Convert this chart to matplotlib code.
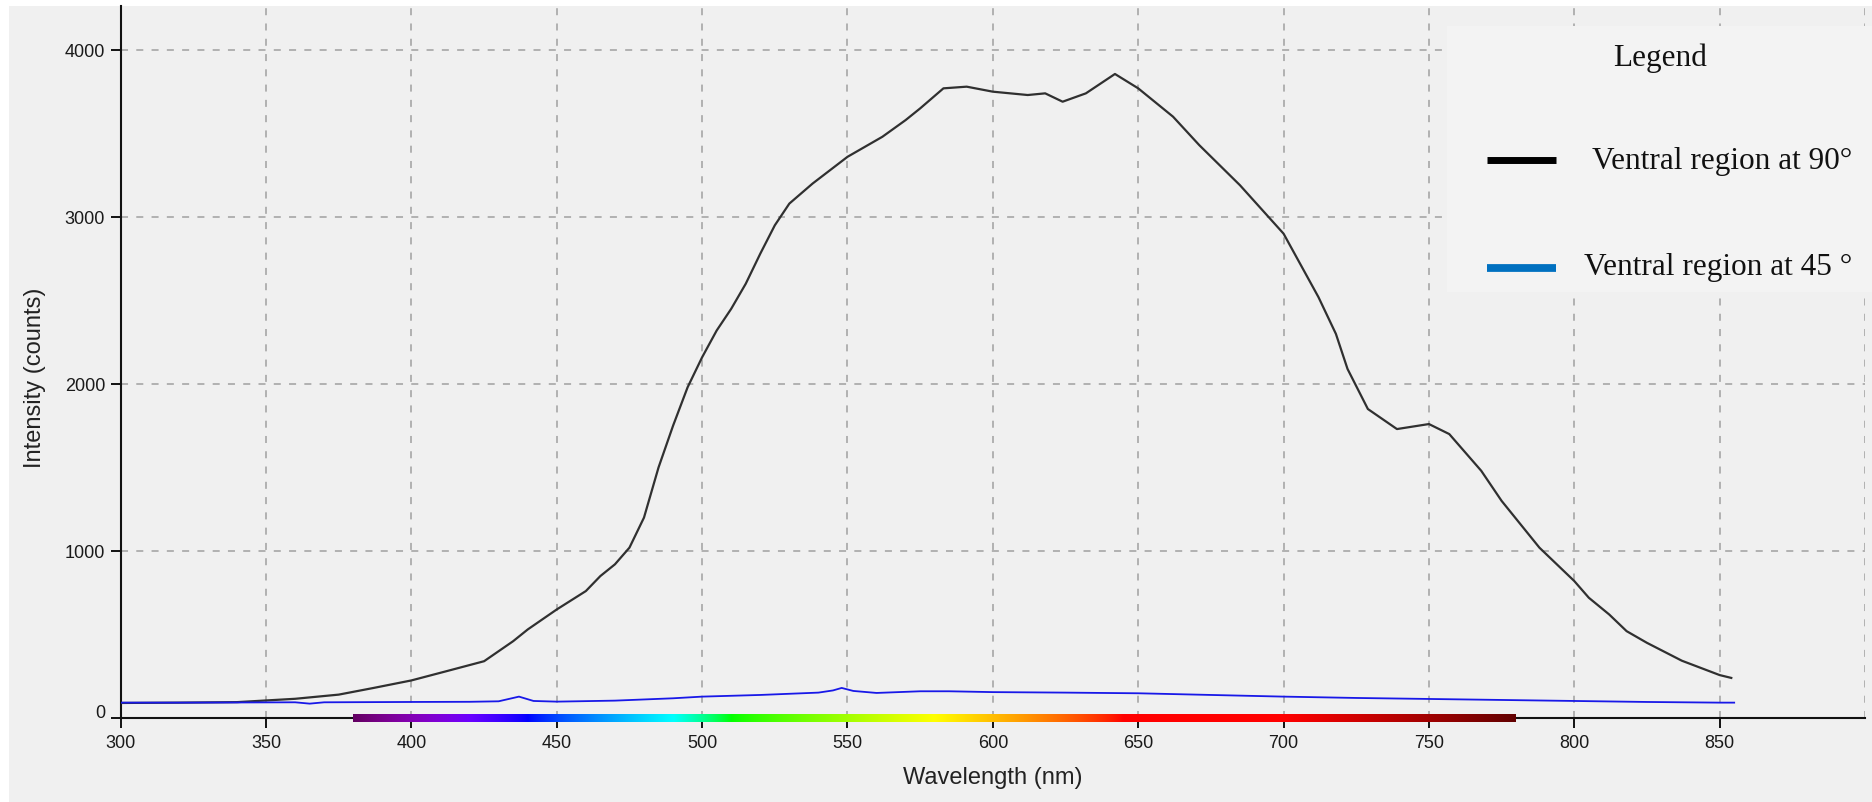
import numpy as np
import matplotlib
matplotlib.use('Agg')
import matplotlib.pyplot as plt
from matplotlib.patches import Rectangle
from matplotlib.lines import Line2D
import matplotlib.transforms as mtransforms

# ---------------- data ----------------
wl_90 = [300, 320, 340, 350, 360, 375, 387, 400, 412, 425, 435, 440, 450, 460, 465,
         470, 475, 480, 485, 490, 495, 500, 505, 510, 515, 520, 525, 530, 538, 550,
         562, 570, 575, 583, 591, 600, 612, 618, 624, 632, 642, 650, 662, 671, 685,
         700, 712, 718, 722, 729, 739, 750, 757, 768, 775, 788, 800, 805, 812, 818,
         825, 837, 850, 854]
int_90 = [90, 92, 95, 105, 115, 140, 180, 225, 280, 340, 460, 530, 650, 760, 850,
          920, 1020, 1200, 1500, 1750, 1980, 2160, 2320, 2450, 2600, 2780, 2950, 3080, 3200, 3360,
          3480, 3580, 3650, 3770, 3780, 3750, 3730, 3740, 3690, 3740, 3856, 3770, 3600, 3430, 3190,
          2900, 2520, 2300, 2090, 1850, 1730, 1760, 1700, 1480, 1300, 1020, 820, 720, 620, 520,
          450, 343, 257, 240]

wl_45 = [300, 320, 340, 360, 365, 370, 400, 420, 430, 437, 442, 450, 470, 490, 500,
         520, 540, 545, 548, 552, 560, 575, 585, 600, 625, 650, 675, 700, 725, 750,
         775, 800, 825, 850, 855]
int_45 = [92, 92, 93, 94, 86, 94, 96, 97, 100, 128, 102, 98, 104, 118, 128,
          138, 152, 165, 180, 162, 150, 160, 160, 155, 152, 148, 138, 128, 120, 114,
          108, 102, 96, 92, 92]

x_ticks = [300, 350, 400, 450, 500, 550, 600, 650, 700, 750, 800, 850]
y_ticks = [0, 1000, 2000, 3000, 4000]
legend_title = "Legend"
legend_labels = ["Ventral region at 90°", "Ventral region at 45 °"]
legend_colors = ["#000000", "#0070c0"]
visible_range = [380, 780]

# ---------------- figure ----------------
W, H = 1872, 803
fig = plt.figure(figsize=(W / 100, H / 100), dpi=100)
fig.patch.set_facecolor('white')
fig.add_artist(Rectangle((9 / W, 0), 1 - 9 / W, (H - 7) / H, transform=fig.transFigure,
                         facecolor='#f0f0f0', edgecolor='none', zorder=-10))

x0, x1, ytop, ybot = 120.7, 1865, 7, 719
ax = fig.add_axes([x0 / W, (H - ybot) / H, (x1 - x0) / W, (ybot - ytop) / H])
ax.patch.set_visible(False)
ax.set_xlim(300, 900)
ax.set_ylim(0, 4263)

for s in ['top', 'right']:
    ax.spines[s].set_visible(False)
for s in ['left', 'bottom']:
    ax.spines[s].set_linewidth(1.5)
    ax.spines[s].set_color('#111111')

ax.set_xticks(x_ticks)
ax.set_yticks(y_ticks)
ax.set_xticklabels([str(t) for t in x_ticks])
ax.set_yticklabels([str(t) for t in y_ticks])
ax.tick_params(axis='both', direction='out', length=7.2, width=1.4, color='#111111',
               labelsize=13, labelcolor='#1a1a1a', pad=4)
for lab in ax.get_xticklabels() + ax.get_yticklabels():
    lab.set_fontfamily('Liberation Sans')

# "0" label sits a little above its tick in the reference
off = mtransforms.ScaledTranslation(0, 7 / 100, fig.dpi_scale_trans)
ylabs = ax.get_yticklabels()
ylabs[0].set_transform(ylabs[0].get_transform() + off)

grid_kw = dict(color='#a0a0a0', linewidth=1.1, linestyle=(0, (4.6, 5.4)))
ax.grid(True, **grid_kw)
ax.axvline(900, **grid_kw, zorder=1)
ax.set_axisbelow(True)

ax.plot(wl_90, int_90, color='#303030', linewidth=1.6, zorder=3)
ax.plot(wl_45, int_45, color='#1818e8', linewidth=1.3, zorder=3)

# visible-spectrum colour bar under the axis
def wl_rgb(w):
    if w < 440:
        r, g, b = -(w - 440) / 60, 0.0, 1.0
    elif w < 490:
        r, g, b = 0.0, (w - 440) / 50, 1.0
    elif w < 510:
        r, g, b = 0.0, 1.0, -(w - 510) / 20
    elif w < 580:
        r, g, b = (w - 510) / 70, 1.0, 0.0
    elif w < 645:
        r, g, b = 1.0, -(w - 645) / 65, 0.0
    else:
        r, g, b = 1.0, 0.0, 0.0
    if w < 420:
        f = 0.3 + 0.7 * (w - 380) / 40
    elif w > 700:
        f = 0.3 + 0.7 * (780 - w) / 80
    else:
        f = 1.0
    return [(c * f) ** 0.8 if c > 0 else 0.0 for c in (r, g, b)]

wls = np.linspace(visible_range[0], visible_range[1], 800)
img = np.array([[wl_rgb(w) for w in wls]])
ax.imshow(img, extent=[visible_range[0], visible_range[1], -24, 18], aspect='auto',
          clip_on=False, zorder=4, interpolation='bilinear')
ax.set_xlim(300, 900)
ax.set_ylim(0, 4263)

ax.set_xlabel('Wavelength (nm)', fontsize=17, family='Liberation Sans', color='#222222', va='center')
ax.set_ylabel('Intensity (counts)', fontsize=17, family='Liberation Sans', color='#222222', va='center')
ax.xaxis.set_label_coords(0.5, (ybot - 778) / (ybot - ytop))
ax.yaxis.set_label_coords((35 - x0) / (x1 - x0), (ybot - 378) / (ybot - ytop))

# ---------------- legend (drawn in figure pixels) ----------------
def fx(px):
    return px / W

def fy(py):
    return (H - py) / H

fig.add_artist(Rectangle((fx(1447), fy(293)), 1 - fx(1447), (293 - 27) / H,
                         transform=fig.transFigure, facecolor='#f3f3f3',
                         edgecolor='none', zorder=5))
fig.text(fx(1660), fy(58), legend_title, ha='center', va='center', fontsize=22.5,
         family='Liberation Serif', color='#111111', zorder=6)
leg_y_line = [161, 269]
leg_y_text = [161, 267]
leg_lw = [5.0, 5.6]
for lab, col, yl, yt, lw in zip(legend_labels, legend_colors, leg_y_line, leg_y_text, leg_lw):
    fig.add_artist(Line2D([fx(1487), fx(1556)], [fy(yl), fy(yl)], transform=fig.transFigure,
                          color=col, linewidth=lw, solid_capstyle='butt', zorder=6))
    fig.text(fx(1852), fy(yt), lab, ha='right', va='center', fontsize=22.5,
             family='Liberation Serif', color='#111111', zorder=6)

fig.savefig('out.png', dpi=100, facecolor=fig.get_facecolor())
